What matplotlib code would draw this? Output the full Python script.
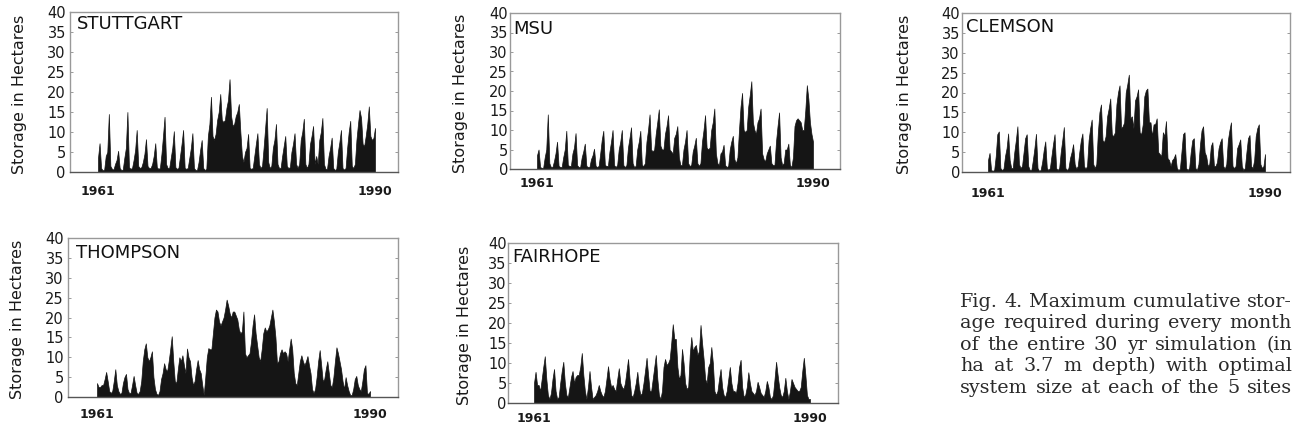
import numpy as np
import matplotlib
matplotlib.use("Agg")
import matplotlib.pyplot as plt

# ---------------- data (bi-monthly maximum storage, ha) ----------------
YEAR_LABELS = ["1961", "1990"]
Y_TICKS = [0, 5, 10, 15, 20, 25, 30, 35, 40]

STUTTGART = [
    3.5, 7.2, 1.0, 0.4, 0.6, 4.0,
    5.0, 14.5, 1.5, 0.8, 0.6, 2.0,
    3.0, 5.3, 1.0, 0.5, 0.6, 3.5,
    6.0, 15.0, 1.2, 0.8, 1.0, 3.0,
    5.5, 10.5, 1.5, 1.0, 1.2, 2.5,
    4.5, 8.2, 1.5, 1.0, 1.0, 2.0,
    4.0, 7.2, 1.2, 0.8, 1.0, 4.5,
    9.0, 13.8, 2.0, 1.0, 1.0, 3.5,
    6.0, 10.2, 1.2, 0.8, 1.0, 4.0,
    7.0, 10.5, 1.0, 0.8, 1.0, 3.5,
    6.0, 9.7, 1.0, 0.5, 0.5, 2.5,
    5.5, 8.0, 1.0, 0.5, 0.8, 9.0,
    12.0, 18.8, 9.0, 8.0, 9.5, 13.0,
    15.0, 19.5, 13.0, 12.5, 13.0, 16.0,
    18.0, 23.2, 14.0, 11.5, 12.0, 14.0,
    15.0, 17.0, 10.0, 4.0, 2.5, 5.0,
    6.0, 9.5, 1.0, 0.8, 1.0, 4.0,
    7.0, 9.7, 2.0, 1.0, 1.5, 6.0,
    11.0, 16.0, 2.5, 1.0, 1.5, 6.0,
    8.0, 12.0, 2.0, 1.0, 1.0, 4.0,
    6.5, 9.0, 1.5, 1.0, 1.2, 5.0,
    7.0, 9.7, 2.0, 1.0, 2.0, 8.0,
    10.0, 13.3, 2.0, 1.0, 2.0, 7.0,
    9.0, 11.5, 2.0, 4.0, 2.0, 8.0,
    10.0, 13.5, 2.0, 0.8, 0.8, 4.0,
    6.0, 8.6, 1.0, 0.5, 0.8, 5.0,
    7.5, 10.5, 1.0, 0.6, 1.0, 6.0,
    10.0, 12.8, 1.5, 1.0, 2.0, 8.0,
    12.0, 15.5, 13.5, 7.0, 6.5, 9.0,
    12.0, 16.4, 9.0, 8.0, 8.5, 11.0,
]

MSU = [
    3.5, 5.0, 0.5, 0.3, 0.3, 3.0,
    5.0, 14.0, 1.5, 0.5, 0.5, 2.0,
    4.0, 7.0, 0.8, 0.5, 0.5, 3.0,
    5.0, 9.8, 1.0, 0.8, 0.8, 4.0,
    5.5, 9.2, 1.0, 0.5, 0.5, 3.0,
    4.5, 6.5, 0.8, 0.5, 0.5, 2.5,
    3.5, 5.2, 0.8, 0.5, 0.8, 4.0,
    7.5, 9.8, 1.0, 0.8, 0.8, 4.5,
    7.0, 10.0, 1.0, 0.5, 1.0, 5.0,
    7.0, 10.0, 1.0, 0.5, 1.0, 5.5,
    8.0, 10.7, 1.5, 0.5, 0.8, 5.0,
    7.0, 9.8, 1.0, 0.8, 1.5, 7.0,
    10.0, 14.0, 5.0, 4.5, 5.0, 9.0,
    12.0, 15.3, 6.0, 5.0, 5.0, 9.0,
    11.0, 13.8, 5.0, 4.5, 4.0, 8.0,
    9.0, 11.0, 3.0, 1.0, 1.0, 5.0,
    7.0, 10.0, 1.5, 0.8, 1.0, 4.5,
    6.0, 8.0, 1.5, 0.8, 1.5, 7.0,
    10.0, 13.8, 5.5, 5.0, 5.5, 10.0,
    12.0, 15.5, 4.0, 1.5, 1.0, 4.0,
    4.5, 6.2, 1.0, 0.5, 0.8, 5.0,
    7.0, 8.5, 2.5, 1.5, 3.0, 10.0,
    16.0, 19.5, 10.0, 9.5, 10.0, 16.0,
    19.0, 22.5, 12.0, 10.0, 9.0, 12.0,
    13.0, 15.5, 4.0, 2.5, 2.0, 4.0,
    5.0, 6.0, 1.5, 1.0, 1.0, 7.0,
    11.0, 14.5, 3.0, 1.0, 1.5, 5.0,
    5.0, 6.5, 1.0, 0.5, 3.0, 11.0,
    12.5, 13.0, 12.5, 12.0, 10.0, 10.0,
    15.0, 21.5, 18.0, 12.0, 9.0, 7.0,
]

CLEMSON = [
    3.0, 4.8, 0.5, 0.3, 0.5, 4.0,
    9.5, 10.2, 1.0, 0.5, 0.8, 4.0,
    6.0, 9.7, 3.0, 1.0, 1.0, 5.0,
    8.0, 11.5, 2.0, 1.0, 1.5, 5.0,
    8.5, 9.5, 1.5, 0.5, 0.5, 3.0,
    6.0, 9.6, 1.0, 0.3, 0.5, 2.5,
    5.5, 7.7, 1.0, 0.5, 1.0, 4.0,
    7.0, 9.5, 1.0, 0.5, 1.0, 5.0,
    8.0, 11.3, 1.0, 0.5, 1.0, 3.5,
    5.0, 7.0, 2.0, 0.8, 1.5, 5.0,
    8.0, 9.7, 1.5, 0.8, 1.5, 8.0,
    11.0, 13.2, 2.0, 1.0, 2.0, 10.0,
    15.0, 17.0, 8.0, 7.5, 9.0, 14.0,
    16.0, 18.5, 9.5, 9.0, 10.0, 17.0,
    20.0, 21.8, 11.0, 11.5, 12.5, 20.0,
    22.0, 24.5, 13.5, 14.0, 11.0, 18.0,
    19.0, 20.8, 10.0, 9.5, 12.0, 19.0,
    20.5, 21.0, 12.5, 12.5, 9.0, 12.0,
    12.0, 13.5, 5.0, 4.5, 4.0, 10.0,
    9.0, 12.8, 3.5, 3.0, 1.5, 3.0,
    3.5, 4.5, 1.0, 0.5, 0.8, 5.0,
    9.5, 10.0, 1.0, 0.5, 1.0, 5.0,
    8.0, 8.5, 1.0, 0.5, 2.0, 7.0,
    10.5, 11.5, 5.0, 4.0, 1.5, 2.0,
    6.5, 7.5, 1.5, 1.5, 2.5, 6.0,
    7.5, 8.5, 1.5, 0.8, 2.0, 8.0,
    10.5, 12.5, 1.5, 1.0, 1.5, 6.0,
    7.0, 8.2, 1.5, 0.5, 1.0, 5.0,
    8.5, 9.3, 1.5, 1.0, 3.0, 9.0,
    11.0, 12.0, 2.0, 1.0, 1.5, 4.5,
]

THOMPSON = [
    3.5, 2.5, 2.5, 3.0, 3.0, 4.5,
    6.3, 4.0, 1.5, 1.0, 1.5, 4.0,
    7.0, 3.0, 1.5, 0.8, 1.0, 3.5,
    5.0, 5.8, 2.0, 1.0, 1.0, 3.0,
    5.3, 3.0, 1.0, 0.8, 1.5, 4.0,
    9.0, 12.0, 13.5, 10.0, 9.0, 10.0,
    11.5, 5.0, 2.0, 0.8, 0.5, 1.5,
    4.5, 6.0, 8.5, 7.0, 6.5, 9.0,
    12.0, 15.3, 9.0, 4.0, 3.5, 7.0,
    10.0, 9.0, 10.5, 8.0, 6.0, 12.2,
    10.0, 9.0, 5.0, 3.0, 4.0, 7.0,
    9.3, 7.0, 6.0, 3.0, 0.5, 5.0,
    10.0, 12.3, 12.0, 12.0, 16.0, 20.0,
    22.0, 21.5, 19.0, 18.0, 19.0, 20.0,
    22.0, 24.5, 23.0, 21.0, 20.0, 21.5,
    21.5, 20.5, 19.5, 17.0, 16.0, 16.5,
    21.5, 11.0, 10.0, 10.5, 11.0, 14.0,
    18.0, 20.8, 16.0, 13.0, 10.0, 9.0,
    12.0, 16.0, 17.5, 16.5, 17.0, 18.0,
    20.0, 22.0, 19.0, 15.0, 8.5, 9.0,
    11.0, 12.0, 11.0, 11.5, 11.0, 9.0,
    12.0, 14.7, 12.0, 6.0, 3.5, 3.0,
    6.0, 9.0, 10.5, 9.0, 8.0, 9.0,
    10.3, 8.0, 6.0, 2.0, 1.0, 2.0,
    5.0, 9.0, 11.8, 8.0, 4.0, 4.5,
    7.0, 9.0, 6.0, 3.0, 2.5, 5.0,
    9.0, 12.5, 11.0, 9.0, 7.0, 4.0,
    2.0, 5.0, 3.0, 1.5, 0.5, 0.5,
    2.0, 4.5, 5.3, 3.0, 2.0, 1.5,
    4.0, 7.0, 8.0, 1.0, 0.8, 1.5,
]

FAIRHOPE = [
    5.0, 7.8, 4.5, 4.5, 3.0, 6.0,
    9.0, 11.7, 6.0, 2.0, 1.0, 2.5,
    6.0, 8.5, 3.0, 1.0, 1.5, 5.0,
    8.0, 10.3, 5.0, 2.0, 1.5, 4.0,
    6.5, 8.0, 5.0, 6.5, 7.0, 7.0,
    9.0, 12.5, 7.0, 3.0, 1.0, 4.0,
    8.0, 4.0, 1.0, 1.5, 2.0, 3.0,
    4.5, 3.0, 2.0, 1.5, 3.0, 6.0,
    9.2, 6.0, 4.0, 4.5, 3.5, 3.0,
    6.0, 8.7, 5.0, 4.0, 3.5, 5.0,
    8.0, 11.0, 6.0, 2.0, 1.5, 3.0,
    5.0, 7.8, 4.0, 2.0, 2.5, 5.0,
    8.0, 11.3, 7.0, 3.0, 3.0, 6.0,
    9.0, 12.0, 6.0, 2.0, 1.0, 3.0,
    9.0, 11.0, 9.5, 10.0, 11.0, 15.0,
    19.7, 16.0, 16.0, 9.0, 6.0, 7.0,
    13.5, 10.0, 5.0, 3.5, 4.0, 12.0,
    16.5, 13.0, 14.0, 14.5, 12.0, 13.0,
    19.5, 15.0, 11.0, 6.0, 5.0, 9.0,
    10.0, 14.0, 10.0, 3.0, 2.0, 3.0,
    6.0, 8.5, 4.0, 2.0, 1.5, 3.0,
    6.0, 9.0, 5.0, 3.0, 3.0, 2.5,
    5.0, 9.0, 10.8, 4.0, 1.5, 2.0,
    4.0, 7.7, 5.0, 3.0, 2.5, 2.0,
    3.0, 5.3, 4.0, 2.5, 2.0, 1.5,
    3.0, 5.5, 4.0, 1.5, 1.0, 2.0,
    6.0, 10.3, 7.0, 4.0, 2.0, 1.5,
    3.0, 6.3, 3.0, 1.0, 3.0, 6.0,
    5.0, 4.0, 3.5, 3.0, 3.0, 4.0,
    8.0, 11.3, 7.0, 2.0, 1.0, 1.0,
]

CAPTION = [
    "Fig. 4. Maximum cumulative stor-",
    "age required during every month",
    "of the entire 30 yr simulation (in",
    "ha at 3.7 m depth) with optimal",
    "system size at each of the 5 sites",
]

# ---------------- layout (pixels) ----------------
W, H = 1298, 434
fig = plt.figure(figsize=(W / 100, H / 100), dpi=100)
fig.patch.set_facecolor("white")

SPINE = "#999999"
INK = "#151515"

panels = [
    # name, data, box (L,T,R,B), data px (x0,x1), title (x,y), ylabel x, year pad, ytick pad
    ("STUTTGART", STUTTGART, (70, 12, 398, 172), (98, 375), (77, 15), 20, 13, 3.0),
    ("MSU", MSU, (510, 13, 840, 169), (537, 813), (513, 20), 460, 8, 1.5),
    ("CLEMSON", CLEMSON, (962, 13, 1290, 172), (988, 1265), (966, 18), 905, 15, 1.5),
    ("THOMPSON", THOMPSON, (68, 238, 398, 397), (97, 370), (76, 244), 18, 11, 3.0),
    ("FAIRHOPE", FAIRHOPE, (508, 243, 838, 403), (534, 810), (512, 248), 465, 9, 1.0),
]

for name, vals, box, dpx, tpos, ylx, ypad, tpad in panels:
    L, T, R, B = box
    ax = fig.add_axes([L / W, 1 - B / H, (R - L) / W, (B - T) / H])
    n = len(vals)
    x = np.arange(n)
    x0, x1 = dpx
    ppj = (x1 - x0) / (n - 1)
    ax.set_xlim(-(x0 - L) / ppj, (n - 1) + (R - x1) / ppj)
    ax.set_ylim(0, 40)
    ax.fill_between(x, vals, 0, color=INK, lw=0.5)
    for s in ax.spines.values():
        s.set_color(SPINE)
        s.set_linewidth(1.0)
    ax.spines["bottom"].set_color("#555555")
    ax.set_yticks(Y_TICKS)
    ax.set_yticklabels([str(v) for v in Y_TICKS])
    ax.tick_params(axis="y", direction="in", length=2.5, width=0.7, color=SPINE,
                   labelsize=10.5, pad=tpad, labelcolor="#1a1a1a", right=True)
    ax.set_xticks([0, n - 1])
    ax.set_xticklabels(YEAR_LABELS)
    ax.tick_params(axis="x", length=0, labelsize=9, pad=ypad / 1.389,
                   labelcolor="#1a1a1a")
    for lab in ax.get_xticklabels():
        lab.set_fontweight("bold")
    fig.text(tpos[0] / W, 1 - tpos[1] / H, name, ha="left", va="top",
             fontsize=13, color="#111111")
    fig.text(ylx / W, 1 - ((T + B) / 2 + 2) / H, "Storage in Hectares",
             rotation=90, ha="center", va="center", fontsize=11.5,
             color="#1a1a1a")

# ---------------- justified caption ----------------
renderer = fig.canvas.get_renderer()
CAP_X0, CAP_X1 = 960, 1292
cap_y = [302, 323.4, 344.8, 366.2, 387.6]
CAP_FAMILY = "DejaVu Serif"

# choose a size so the widest line fits with normal word spacing
probe = fig.text(0, 0, "a b", fontsize=10, family=CAP_FAMILY)
natural = []
for line in CAPTION:
    probe.set_text(line)
    natural.append(probe.get_window_extent(renderer).width)
probe.remove()
cap_size = 10 * (CAP_X1 - CAP_X0) / max(natural) * 0.99

for line, yc in zip(CAPTION, cap_y):
    words = line.split()
    texts = [fig.text(0, 1 - yc / H, w, fontsize=cap_size, family=CAP_FAMILY,
                      ha="left", va="center", color="#2a2a2a") for w in words]
    widths = [t.get_window_extent(renderer).width for t in texts]
    gap = (CAP_X1 - CAP_X0 - sum(widths)) / (len(words) - 1)
    xp = CAP_X0
    for t, wdt in zip(texts, widths):
        t.set_x(xp / W)
        xp += wdt + gap

fig.savefig("out.png", dpi=100, facecolor="white")
